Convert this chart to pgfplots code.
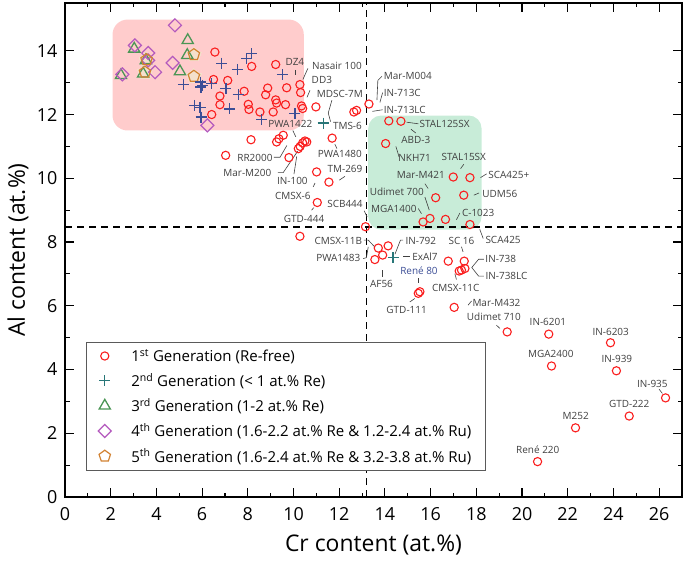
\documentclass[border=0pt]{standalone}
\usepackage{fontspec}
\setmainfont{Open Sans}
\usepackage{pgfplots}
\pgfplotsset{compat=1.18}
\definecolor{cred}{RGB}{250,30,30}
\definecolor{cnavy}{RGB}{60,78,150}
\definecolor{cteal}{RGB}{40,118,120}
\definecolor{cgreen}{RGB}{75,150,85}
\definecolor{cpurple}{RGB}{180,90,190}
\definecolor{corange}{RGB}{210,130,50}
\definecolor{pinkfill}{RGB}{255,204,204}
\definecolor{greenfill}{RGB}{200,236,216}
\definecolor{labelgray}{RGB}{64,64,64}
\tikzset{
  lbl/.style={font=\fontsize{10}{12}\selectfont, text=labelgray, inner sep=0pt},
  ldr/.style={draw=labelgray, line width=0.6bp},
}
\begin{document}
\begin{tikzpicture}
\begin{axis}[
  scale only axis, width=617bp, height=494bp,
  xmin=0, xmax=27, ymin=0, ymax=15.5,
  xtick={0,2,...,26}, ytick={0,2,...,14},
  minor x tick num=1, minor y tick num=1,
  tick align=inside, major tick length=9bp, minor tick length=4.5bp,
  axis line style={line width=1.2bp},
  tick style={line width=1.1bp, black},
  /pgf/number format/assume math mode=true,
  tick label style={font=\fontsize{18}{20}\selectfont},
  xticklabel style={yshift=-7bp},
  yticklabel style={xshift=-4bp},
  xlabel={Cr content (at.\%)}, ylabel={Al content (at.\%)},
  every axis x label/.style={at={(axis description cs:0.5,0)}, yshift=-48bp, anchor=center, font=\fontsize{23}{26}\selectfont},
  every axis y label/.style={at={(axis description cs:0,0.5)}, xshift=-47bp, rotate=90, anchor=center, font=\fontsize{23}{26}\selectfont},
  legend style={at={(0.034,0.314)}, anchor=north west, draw={rgb,255:red,90;green,90;blue,90}, line width=0.6bp, fill=white,
     font=\fontsize{15.1}{17}\selectfont, row sep=6.5bp, inner xsep=12bp, inner ysep=5bp,
     /tikz/every odd column/.append style={column sep=18bp}},
  legend cell align=left,
]
% highlight boxes
\fill[pinkfill, rounded corners=15bp] (axis cs:2.08,11.50) rectangle (axis cs:10.45,14.98);
\fill[greenfill, rounded corners=13bp] (axis cs:13.27,8.39) rectangle (axis cs:18.23,11.97);
% dashed lines
\draw[line width=1.3bp, dash pattern=on 7bp off 5bp] (axis cs:13.20,0) -- (axis cs:13.20,15.5);
\draw[line width=1.3bp, dash pattern=on 7bp off 5bp] (axis cs:0,8.47) -- (axis cs:27,8.47);

% glow for 5th generation
\addplot[only marks, forget plot, mark=pentagon*, mark size=7.5bp, mark options={draw=corange!25, fill=corange!25, line width=0pt}]
 coordinates {(5.64,13.88) (3.57,13.72) (3.50,13.33) (5.64,13.20)};

% 1st generation
\addplot[only marks, mark=o, mark size=4.1bp, mark options={draw=cred, line width=1.1bp}] coordinates {
(6.56,13.96) (8.17,13.51) (9.22,13.57) (7.12,13.07) (6.50,13.10) (6.78,12.58) (6.78,12.31) (6.42,12.00)
(7.84,12.73) (8.02,12.32) (8.05,12.16) (8.53,12.08) (8.87,12.83) (8.78,12.62) (9.22,12.46) (9.26,12.36)
(9.11,12.08) (9.65,12.31) (9.70,12.84) (10.28,12.94) (10.31,12.69) (10.35,12.27) (10.40,12.19) (10.98,12.24)
(7.03,10.72) (8.14,11.21) (9.26,11.14) (9.36,11.24) (9.55,11.35) (9.80,10.65)
(10.21,10.93) (10.29,11.00) (10.40,11.11) (10.50,11.17) (10.58,11.14)
(11.69,11.26) (11.01,10.20) (11.55,9.88) (11.04,9.24) (10.28,8.18) (13.15,8.48)
(12.76,12.13) (12.64,12.08) (13.30,12.33)
(14.17,11.80) (14.70,11.79) (14.03,11.09) (16.99,10.04) (17.72,10.02) (17.45,9.47) (16.22,9.39)
(15.97,8.74) (15.67,8.63) (16.65,8.71) (17.72,8.55)
(13.71,7.81) (14.14,7.88) (13.90,7.59) (13.56,7.45) (16.77,7.40) (17.47,7.40) (17.50,7.17) (17.35,7.12) (17.25,7.09)
(15.53,6.44) (15.46,6.39) (17.03,5.95) (19.35,5.18) (21.17,5.11) (23.87,4.84) (21.29,4.11) (24.13,3.96)
(26.28,3.11) (24.69,2.54) (22.34,2.17) (20.68,1.11)
};
\addlegendentry{1\textsuperscript{st} Generation (Re-free)}

% 2nd generation (highlighted)
\addplot[only marks, mark=+, mark size=5.5bp, mark options={draw=cteal, line width=1.4bp}] coordinates {
(11.30,11.73) (14.36,7.51)
};
\addlegendentry{2\textsuperscript{nd} Generation (< 1 at.\% Re)}

% 3rd generation
\addplot[only marks, mark=triangle, mark size=6.5bp, mark options={draw=cgreen, line width=1.3bp}] coordinates {
(5.37,14.33) (5.35,13.86) (3.03,14.06) (3.54,13.70) (3.42,13.28) (2.45,13.23) (5.03,13.35)
};
\addlegendentry{3\textsuperscript{rd} Generation (1-2 at.\% Re)}

% 4th generation
\addplot[only marks, mark=square, mark size=4.6bp, mark options={draw=cpurple, line width=1.2bp, rotate=45}] coordinates {
(4.81,14.80) (3.06,14.17) (3.64,13.93) (3.64,13.70) (3.94,13.33) (4.71,13.62) (2.51,13.26) (6.23,11.66)
};
\addlegendentry{4\textsuperscript{th} Generation (1.6-2.2 at.\% Re \& 1.2-2.4 at.\% Ru)}

% 5th generation
\addplot[only marks, mark=pentagon, mark size=6bp, mark options={draw=corange, line width=1.2bp}] coordinates {
(5.64,13.88) (3.57,13.72) (3.50,13.33) (5.64,13.20)
};
\addlegendentry{5\textsuperscript{th} Generation (1.6-2.4 at.\% Re \& 3.2-3.8 at.\% Ru)}

% 2nd generation (rest)
\addplot[only marks, forget plot, mark=+, mark size=5.5bp, mark options={draw=cnavy, line width=1.4bp}] coordinates {
(8.17,13.91) (7.95,13.75) (6.85,13.61) (7.54,13.42) (9.51,13.25) (5.18,12.95) (5.94,13.02) (6.02,12.92)
(5.95,12.86) (6.42,12.97) (7.04,12.81) (7.58,12.62) (5.68,12.29) (5.91,12.23) (5.96,11.92) (7.19,12.18)
(8.60,11.85) (10.06,12.03)
};

% labels
\node[lbl] at (axis cs:10.06,13.64) {DZ4};
\draw[ldr] (axis cs:10.06,13.40) -- (axis cs:10.06,13.25);
\node[lbl] at (axis cs:11.90,13.54) {Nasair 100};
\draw[ldr] (axis cs:10.63,13.45) -- (axis cs:10.41,13.10);
\node[lbl] at (axis cs:11.24,13.10) {DD3};
\node[lbl] at (axis cs:12.03,12.66) {MDSC-7M};
\draw[ldr] (axis cs:10.72,12.76) -- (axis cs:10.59,12.54);
\draw[ldr] (axis cs:11.68,12.45) -- (axis cs:11.52,12.05) -- (axis cs:11.62,11.78);
\node[lbl] at (axis cs:12.36,11.63) {TMS-6};
\node[lbl] at (axis cs:9.86,11.71) {PWA1422};
\draw[ldr] (axis cs:9.97,11.50) -- (axis cs:10.10,11.30);
\node[lbl] at (axis cs:12.03,10.77) {PWA1480};
\draw[ldr] (axis cs:11.81,11.07) -- (axis cs:11.90,10.93);
\node[lbl] at (axis cs:8.31,10.65) {RR2000};
\draw[ldr] (axis cs:9.14,10.66) -- (axis cs:9.41,10.66) -- (axis cs:9.71,11.03);
\node[lbl] at (axis cs:7.98,10.18) {Mar-M200};
\draw[ldr] (axis cs:9.32,10.18) -- (axis cs:9.55,10.18) -- (axis cs:10.18,10.85);
\node[lbl] at (axis cs:9.95,9.92) {IN-100};
\draw[ldr] (axis cs:10.02,10.13) -- (axis cs:10.14,10.69);
\node[lbl] at (axis cs:9.97,9.45) {CMSX-6};
\draw[ldr] (axis cs:10.86,9.73) -- (axis cs:10.94,9.85);
\node[lbl] at (axis cs:12.25,10.28) {TM-269};
\draw[ldr] (axis cs:12.00,9.94) -- (axis cs:12.25,10.06);
\node[lbl] at (axis cs:10.46,8.74) {GTD-444};
\draw[ldr] (axis cs:10.79,9.00) -- (axis cs:10.89,9.08);
\node[lbl] at (axis cs:12.25,9.18) {SCB444};
\draw[ldr] (axis cs:13.09,8.98) -- (axis cs:13.22,8.79);
\node[lbl] at (axis cs:15.00,13.20) {Mar-M004};
\draw[ldr] (axis cs:13.87,13.20) -- (axis cs:13.69,13.07) -- (axis cs:13.65,12.45);
\node[lbl] at (axis cs:14.76,12.69) {IN-713C};
\draw[ldr] (axis cs:13.90,12.69) -- (axis cs:13.78,12.38);
\node[lbl] at (axis cs:14.87,12.15) {IN-713LC};
\draw[ldr] (axis cs:13.90,12.15) -- (axis cs:13.45,12.10);
\node[lbl] at (axis cs:16.61,11.71) {STAL125SX};
\draw[ldr] (axis cs:14.95,11.76) -- (axis cs:15.46,11.71);
\node[lbl] at (axis cs:15.35,11.19) {ABD-3};
\draw[ldr] (axis cs:15.14,11.54) -- (axis cs:15.35,11.42);
\node[lbl] at (axis cs:15.30,10.65) {NKH71};
\draw[ldr] (axis cs:14.48,11.00) -- (axis cs:14.62,10.67);
\node[lbl] at (axis cs:17.45,10.67) {STAL15SX};
\draw[ldr] (axis cs:17.31,10.30) -- (axis cs:17.45,10.44);
\node[lbl] at (axis cs:19.42,10.09) {SCA425+};
\draw[ldr] (axis cs:18.18,10.02) -- (axis cs:18.45,10.14);
\node[lbl] at (axis cs:15.57,10.09) {Mar-M421};
\draw[ldr] (axis cs:15.75,9.83) -- (axis cs:15.89,9.68);
\node[lbl] at (axis cs:19.03,9.52) {UDM56};
\draw[ldr] (axis cs:17.89,9.47) -- (axis cs:18.12,9.54);
\node[lbl] at (axis cs:14.52,9.57) {Udimet 700};
\draw[ldr] (axis cs:15.75,9.41) -- (axis cs:15.94,9.00);
\node[lbl] at (axis cs:14.39,9.05) {MGA1400};
\draw[ldr] (axis cs:15.46,9.05) -- (axis cs:15.60,8.89);
\node[lbl] at (axis cs:18.08,8.91) {C-1023};
\draw[ldr] (axis cs:17.28,8.91) -- (axis cs:17.13,8.70);
\node[lbl] at (axis cs:19.17,8.06) {SCA425};
\draw[ldr] (axis cs:18.15,8.40) -- (axis cs:18.30,8.11);
\node[lbl] at (axis cs:11.96,8.03) {CMSX-11B};
\draw[ldr] (axis cs:13.08,8.06) -- (axis cs:13.27,8.06) -- (axis cs:13.55,7.85);
\node[lbl] at (axis cs:11.96,7.51) {PWA1483};
\draw[ldr] (axis cs:13.05,7.48) -- (axis cs:13.19,7.51) -- (axis cs:13.27,7.85);
\node[lbl] at (axis cs:13.85,6.70) {AF56};
\draw[ldr] (axis cs:13.88,7.12) -- (axis cs:13.88,6.91);
\node[lbl] at (axis cs:15.57,8.03) {IN-792};
\draw[ldr] (axis cs:14.80,8.06) -- (axis cs:14.68,8.06) -- (axis cs:14.44,7.62);
\node[lbl] at (axis cs:15.75,7.55) {ExAl7};
\draw[ldr] (axis cs:14.80,7.55) -- (axis cs:15.09,7.55);
\node[lbl] at (axis cs:17.35,8.03) {SC 16};
\draw[ldr] (axis cs:17.35,7.85) -- (axis cs:17.42,7.69);
\node[lbl] at (axis cs:19.07,7.46) {IN-738};
\node[lbl] at (axis cs:19.32,6.93) {IN-738LC};
\draw[ldr] (axis cs:18.33,7.46) -- (axis cs:18.10,7.46) -- (axis cs:17.80,7.20) -- (axis cs:18.10,6.93) -- (axis cs:18.33,6.93);
\node[lbl, text=cnavy] at (axis cs:15.49,7.09) {René 80};
\draw[ldr] (axis cs:15.46,6.86) -- (axis cs:15.46,6.70);
\node[lbl] at (axis cs:17.10,6.57) {CMSX-11C};
\draw[ldr] (axis cs:17.06,7.01) -- (axis cs:17.13,6.82);
\node[lbl] at (axis cs:14.95,5.86) {GTD-111};
\draw[ldr] (axis cs:15.09,6.12) -- (axis cs:15.31,6.23);
\node[lbl] at (axis cs:18.88,6.10) {Mar-M432};
\draw[ldr] (axis cs:17.64,6.02) -- (axis cs:17.79,6.15);
\node[lbl] at (axis cs:18.77,5.65) {Udimet 710};
\draw[ldr] (axis cs:18.88,5.39) -- (axis cs:19.03,5.29);
\node[lbl] at (axis cs:21.13,5.48) {IN-6201};
\node[lbl] at (axis cs:23.88,5.18) {IN-6203};
\node[lbl] at (axis cs:21.26,4.50) {MGA2400};
\node[lbl] at (axis cs:24.15,4.33) {IN-939};
\node[lbl] at (axis cs:25.70,3.56) {IN-935};
\draw[ldr] (axis cs:26.00,3.38) -- (axis cs:26.14,3.25);
\node[lbl] at (axis cs:24.69,2.92) {GTD-222};
\node[lbl] at (axis cs:22.35,2.54) {M252};
\node[lbl] at (axis cs:20.69,1.49) {René 220};
\end{axis}
\pgfresetboundingbox
\path ([shift={(-65bp,-69bp)}]current axis.south west) rectangle ([shift={(3bp,3bp)}]current axis.north east);
\end{tikzpicture}
\end{document}
